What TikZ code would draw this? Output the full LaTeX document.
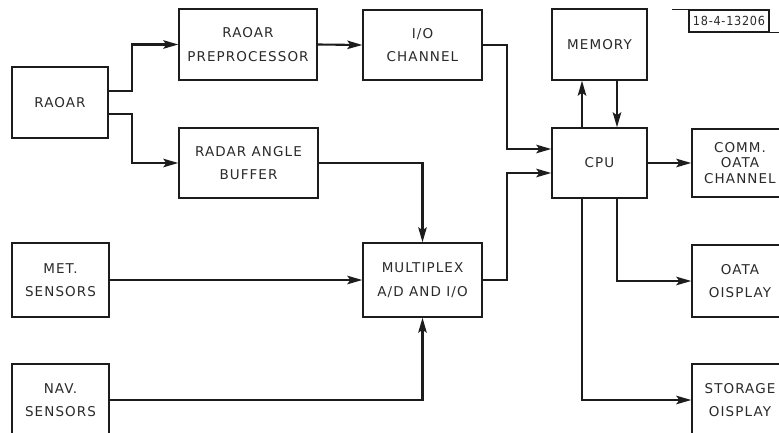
\documentclass[tikz,border=0pt]{standalone}
\usepackage{fontspec}
\setmainfont{DejaVu Sans}[LetterSpace=8]
\newfontfamily\tagfont{DejaVu Sans Condensed}[LetterSpace=6]
\usetikzlibrary{arrows.meta}
\definecolor{linec}{HTML}{1C1C1C}
\definecolor{textc}{HTML}{2A2A2A}
\begin{document}
\begin{tikzpicture}[x=1pt,y=-1pt,
  box/.style={draw=linec,line width=1.4pt,fill=white,align=center,text=textc,
    inner sep=0pt,font=\fontsize{13.5}{23.5}\selectfont},
  arr/.style={draw=linec,line width=2.1pt,-{Stealth[length=15pt,width=8.5pt,inset=3pt]}}]
\useasboundingbox (0,0) rectangle (779,433);
\clip (0,0) rectangle (779,433);
% blocks
\node[box,minimum width=96pt,minimum height=71pt] (radar) at (60,102.5) {RAOAR};
\node[box,minimum width=138pt,minimum height=71pt] (prep) at (248,44.5) {RAOAR\\PREPROCESSOR};
\node[box,minimum width=139pt,minimum height=70pt] (buf) at (248.5,163) {RADAR ANGLE\\BUFFER};
\node[box,minimum width=119pt,minimum height=70pt] (io) at (422.5,45) {I/O\\CHANNEL};
\node[box,minimum width=95pt,minimum height=71pt] (mem) at (599.5,44.5) {MEMORY};
\node[box,minimum width=95pt,minimum height=70pt] (cpu) at (599.5,163) {CPU};
\node[box,minimum width=96pt,minimum height=68pt,font=\fontsize{13.5}{15.5}\selectfont] (comm) at (740,163) {COMM.\\OATA\\CHANNEL};
\node[box,minimum width=119pt,minimum height=74pt] (mux) at (422.5,280) {MULTIPLEX\\A/D AND I/O};
\node[box,minimum width=97pt,minimum height=74pt] (met) at (60.5,280) {MET.\\SENSORS};
\node[box,minimum width=97pt,minimum height=72pt] (nav) at (60.5,400) {NAV.\\SENSORS};
\node[box,minimum width=96pt,minimum height=72pt] (ddisp) at (740,281) {OATA\\OISPLAY};
\node[box,minimum width=96pt,minimum height=72pt] (sdisp) at (740,400) {STORAGE\\OISPLAY};
% tag
\node[draw=linec,line width=1.2pt,minimum width=80pt,minimum height=22pt,inner sep=0pt,
  text=textc,font=\tagfont\fontsize{12.5}{12.5}\selectfont] (tag) at (729,21) {18-4-13206};
\draw[linec,line width=1.2pt] (tag.north west) -- ++(-16,0);
\draw[linec,line width=1.2pt] (tag.south east) -- ++(12,0);
% connectors
\draw[arr] ([yshift=11.5pt]radar.east) -- ++(23,0) |- (prep.west);
\draw[arr] ([yshift=-11.5pt]radar.east) -- ++(23,0) |- (buf.west);
\draw[arr] (prep.east) -- (io.west);
\draw[arr] (io.east) -- ++(24,0) |- ([yshift=14pt]cpu.west);
\draw[arr] (mux.east) -- ++(24,0) |- ([yshift=-10pt]cpu.west);
\draw[arr] ([xshift=-17.5pt]cpu.north) -- ([xshift=-17.5pt]mem.south);
\draw[arr] ([xshift=17.5pt]mem.south) -- ([xshift=17.5pt]cpu.north);
\draw[arr] (cpu.east) -- (comm.west);
\draw[arr] ([xshift=17.5pt]cpu.south) |- (ddisp.west);
\draw[arr] ([xshift=-17.5pt]cpu.south) |- (sdisp.west);
\draw[arr] (buf.east) -| (mux.north);
\draw[arr] (met.east) -- (mux.west);
\draw[arr] (nav.east) -| (mux.south);
\end{tikzpicture}
\end{document}
